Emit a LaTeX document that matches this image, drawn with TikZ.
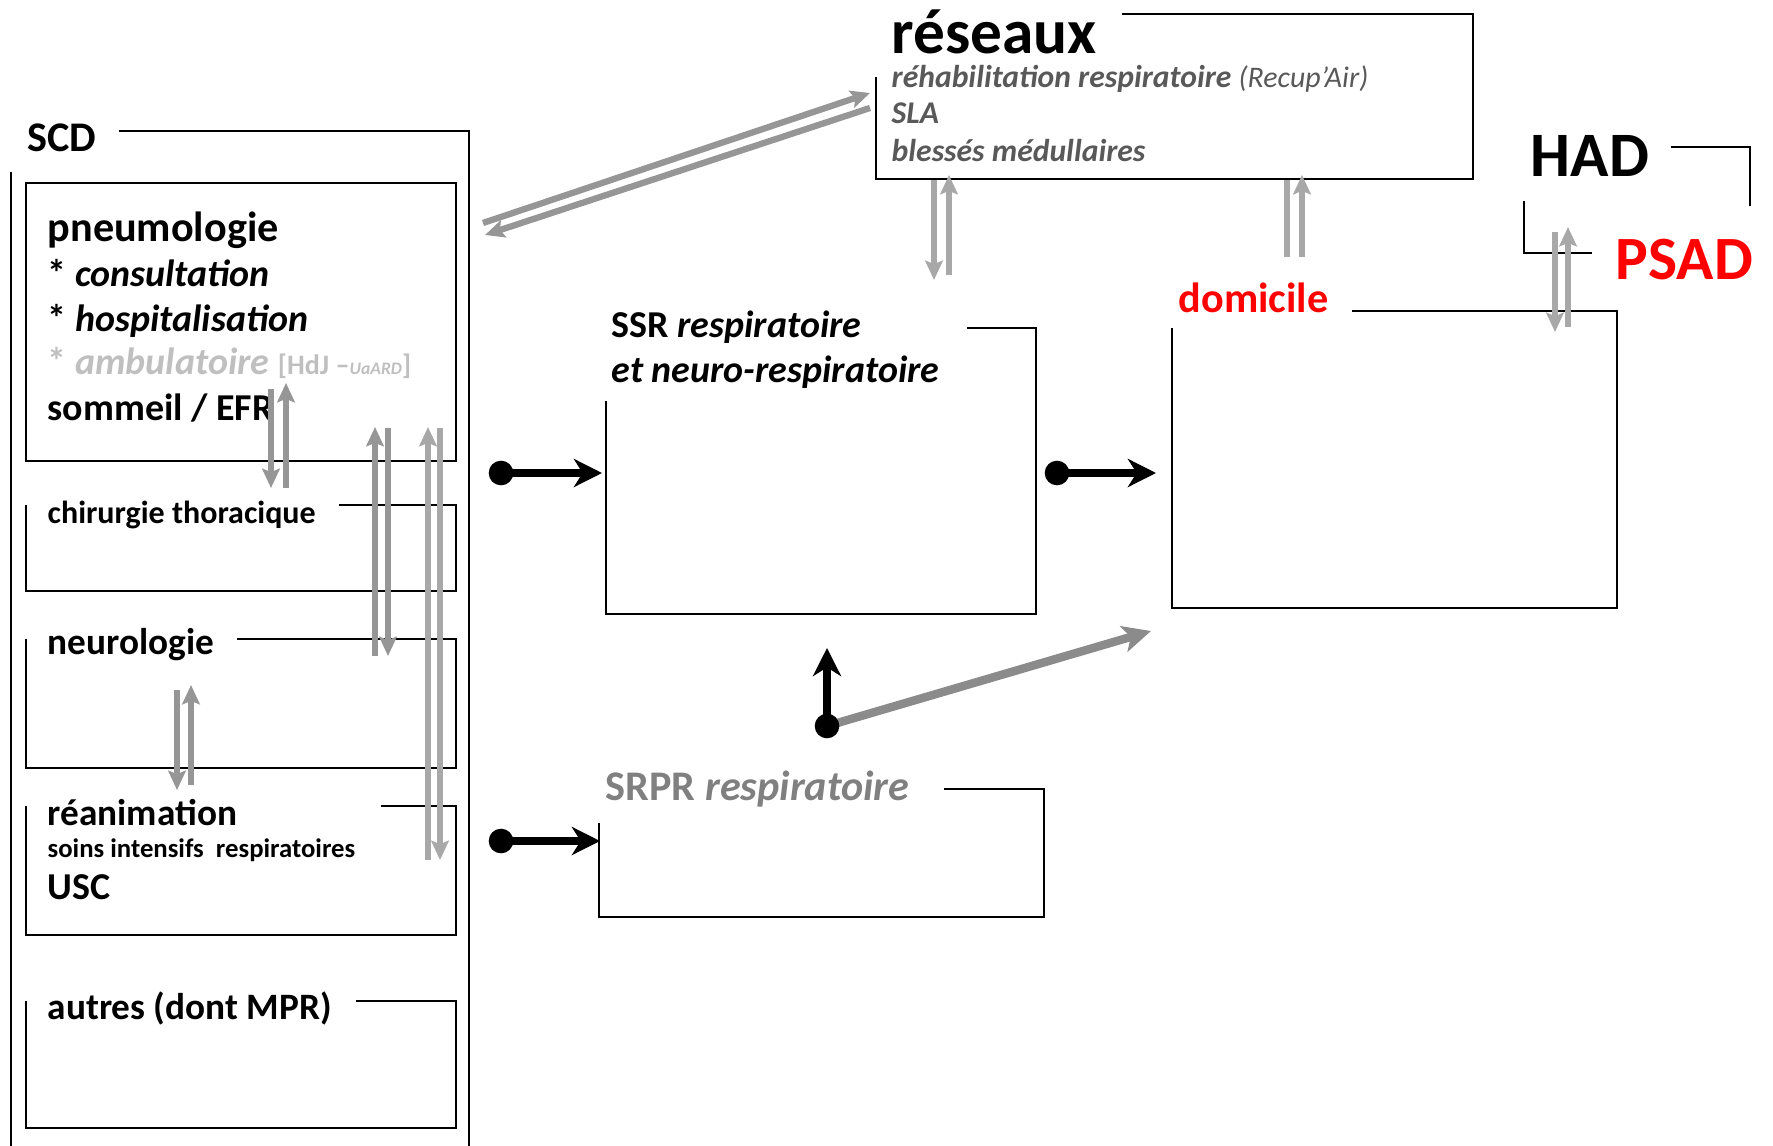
\documentclass[tikz,border=0pt]{standalone}
\usepackage{fontspec}
\setmainfont{Carlito}
\usetikzlibrary{arrows.meta}
\definecolor{arrgray}{HTML}{969696}
\definecolor{arrlight}{HTML}{A8A8A8}
\definecolor{netgray}{HTML}{595959}
\definecolor{srprgray}{HTML}{808080}
\definecolor{ambgray}{HTML}{BFBFBF}
\definecolor{psadred}{HTML}{FF0000}
\newcommand{\fsz}[1]{\fontsize{#1}{#1}\selectfont}
\tikzset{
  frame/.style={line width=0.6pt},
  lbl/.style={anchor=base west, inner sep=0pt, font=\bfseries},
  garr/.style={draw=arrgray, line width=1.8pt, -{Stealth[length=5.5pt,width=5pt,inset=1pt]}},
  gline/.style={draw=arrgray, line width=1.8pt},
  larr/.style={garr, draw=arrlight},
  lline/.style={gline, draw=arrlight},
  barr/.style={draw=black, line width=2pt, -{Stealth[length=8pt,width=8pt,inset=2.5pt]}},
  dot/.style={fill=black}
}

\begin{document}
\begin{tikzpicture}[x=0.01cm,y=-0.01cm]
                \useasboundingbox (0,0) rectangle (1773,1146);
                % SCD
                \node[lbl,font=\bfseries\fsz{12}] (scd) at (27,152) {SCD};
                \draw[frame] (119,131) -- (469,131) -- (469,1146);
                \draw[frame] (11,172) -- (11,1146);
                \draw[frame] (26,183) rectangle (456,461);
                \node[lbl,font=\bfseries\fsz{12}] (pneumo) at (47,242) {pneumologie};
                \node[lbl,font=\bfseries\fsz{10.8}] (consult) at (47,287) {* \textit{consultation}};
                \node[lbl,font=\bfseries\fsz{10.8}] (hospit) at (47,332) {* \textit{hospitalisation}};
                \node[lbl,font=\bfseries\fsz{10.8},text=ambgray] (ambu) at (47,375) {* \textit{ambulatoire} {\fsz{8}[HdJ –{\fsz{5}\textit{UaARD}}]}};
                \node[lbl,font=\bfseries\fsz{10.8}] (sommeil) at (47,420) {sommeil / EFR};
                \draw[frame] (339,505) -- (456,505) -- (456,591) -- (26,591) -- (26,505);
                \node[lbl,font=\bfseries\fsz{9.1}] (chir) at (47,523) {chirurgie thoracique};
                \draw[frame] (237,639) -- (456,639) -- (456,768) -- (26,768) -- (26,639);
                \node[lbl,font=\bfseries\fsz{10.6}] (neuro) at (47,654) {neurologie};
                \draw[frame] (381,806) -- (456,806) -- (456,935) -- (26,935) -- (26,806);
                \node[lbl,font=\bfseries\fsz{10.6}] (rea) at (47,825) {réanimation};
                \node[lbl,font=\bfseries\fsz{7.6}] (soins) at (47,857) {soins intensifs\ \ respiratoires};
                \node[lbl,font=\bfseries\fsz{10.8}] (usc) at (47,899) {USC};
                \draw[frame] (356,1001) -- (456,1001) -- (456,1128) -- (26,1128) -- (26,1001);
                \node[lbl,font=\bfseries\fsz{10.6}] (autres) at (47,1019) {autres (dont MPR)};
                % reseaux
                \draw[frame] (1122,14) -- (1473,14) -- (1473,179) -- (876,179) -- (876,77);
                \node[lbl,font=\bfseries\fsz{18}] (reseaux) at (891,54) {réseaux};
                \node[lbl,font=\bfseries\itshape\fsz{9},text=netgray] (rehab) at (891,88) {réhabilitation respiratoire {\mdseries\fsz{8.5}(Recup’Air)}};
                \node[lbl,font=\bfseries\itshape\fsz{9},text=netgray] (sla) at (891,124) {SLA};
                \node[lbl,font=\bfseries\itshape\fsz{9},text=netgray] (blesses) at (891,162) {blessés médullaires};
                % SSR, SRPR
                \draw[frame] (967,328) -- (1036,328) -- (1036,614) -- (606,614) -- (606,401);
                \node[lbl,font=\bfseries\fsz{10.8}] (ssr) at (611,338) {SSR \textit{respiratoire}};
                \node[lbl,font=\bfseries\itshape\fsz{10.8}] (ssrb) at (611,383) {et neuro-respiratoire};
                \draw[frame] (944,789) -- (1044,789) -- (1044,917) -- (599,917) -- (599,823);
                \node[lbl,font=\bfseries\fsz{12},text=srprgray] (srpr) at (605,800) {SRPR \textit{respiratoire}};
                % domicile, HAD
                \draw[frame] (1352,311) -- (1617,311) -- (1617,608) -- (1172,608) -- (1172,328);
                \node[lbl,font=\bfseries\fsz{12},text=psadred] (domicile) at (1178,313) {domicile};
                \draw[frame] (1671,147) -- (1750,147) -- (1750,206);
                \draw[frame] (1524,201) -- (1524,253) -- (1592,253);
                \node[lbl,font=\bfseries\fsz{18}] (had) at (1530,177) {HAD};
                \node[lbl,font=\bfseries\fsz{17.5},text=psadred] (psad) at (1615,280) {PSAD};
                % arrow ends
                \coordinate (pa1) at (271,389); \coordinate (pa2) at (271,488);
                \coordinate (pb1) at (286,488); \coordinate (pb2) at (286,383);
                \coordinate (qa1) at (375,656); \coordinate (qa2) at (375,427);
                \coordinate (qb1) at (388,428); \coordinate (qb2) at (388,656);
                \coordinate (ra1) at (428,860); \coordinate (ra2) at (428,427);
                \coordinate (rb1) at (440,428); \coordinate (rb2) at (440,860);
                \coordinate (na1) at (177,690); \coordinate (na2) at (177,790);
                \coordinate (nb1) at (191,785); \coordinate (nb2) at (191,685);
                \coordinate (da1) at (483,223); \coordinate (da2) at (870,93);
                \coordinate (db1) at (870,108); \coordinate (db2) at (485,235);
                \coordinate (sa1) at (934,180); \coordinate (sa2) at (934,280);
                \coordinate (sb1) at (949,275); \coordinate (sb2) at (949,175);
                \coordinate (ma1) at (1287,180); \coordinate (ma2) at (1287,257);
                \coordinate (mb1) at (1302,257); \coordinate (mb2) at (1302,175);
                \coordinate (ha1) at (1555,232); \coordinate (ha2) at (1555,332);
                \coordinate (hb1) at (1568,327); \coordinate (hb2) at (1568,227);
                \coordinate (k1) at (501,473); \coordinate (k1t) at (602,473);
                \coordinate (k2) at (1057,473); \coordinate (k2t) at (1156,473);
                \coordinate (k3) at (501,841); \coordinate (k3t) at (600,841);
                \coordinate (k4) at (827,726); \coordinate (k4t) at (827,648);
                \coordinate (k4g) at (1151,631);
                % gray arrows
                \draw[garr] (pa1) -- (pa2);
                \draw[garr] (pb1) -- (pb2);
                \draw[garr] (qa1) -- (qa2);
                \draw[garr] (qb1) -- (qb2);
                \draw[larr] (ra1) -- (ra2);
                \draw[larr] (rb1) -- (rb2);
                \draw[garr] (na1) -- (na2);
                \draw[garr] (nb1) -- (nb2);
                \draw[garr] (da1) -- (da2);
                \draw[garr] (db1) -- (db2);
                \draw[larr] (sa1) -- (sa2);
                \draw[larr] (sb1) -- (sb2);
                \draw[lline] (ma1) -- (ma2);
                \draw[larr] (mb1) -- (mb2);
                \draw[larr] (ha1) -- (ha2);
                \draw[larr] (hb1) -- (hb2);
                \draw[draw=arrgray!110, line width=2.4pt, -{Stealth[length=8pt,width=7.5pt,inset=2pt]}] (k4) -- (k4g);
                % black arrows
                \draw[barr] (k1) -- (k1t);
                \draw[barr] (k2) -- (k2t);
                \draw[barr] (k3) -- (k3t);
                \draw[barr] (k4) -- (k4t);
                \fill[dot] (k1) circle[radius=3.5pt];
                \fill[dot] (k2) circle[radius=3.5pt];
                \fill[dot] (k3) circle[radius=3.5pt];
                \fill[dot] (k4) circle[radius=3.5pt];
\end{tikzpicture}
\end{document}
